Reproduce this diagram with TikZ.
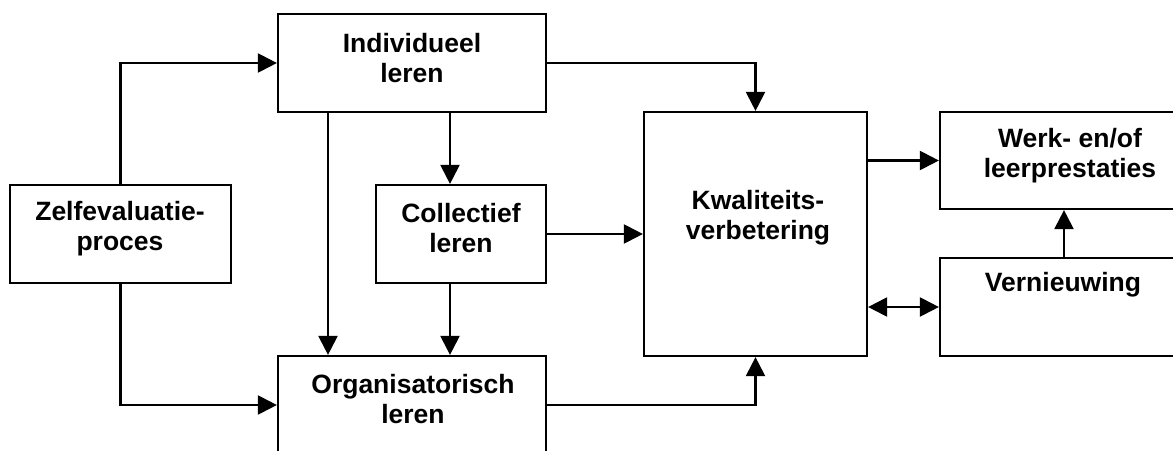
\documentclass[tikz,border=0pt]{standalone}
\usepackage{fontspec}
\setmainfont{Liberation Sans}
\usetikzlibrary{arrows.meta}
\tikzset{
  box/.style={draw=black, line width=2.2pt, fill=white, inner sep=0pt},
  lbl/.style={align=center, font=\fontsize{26.5}{30}\selectfont\bfseries, inner sep=0pt},
  arr/.style={line width=2.2pt, -{Triangle[length=19pt,width=19pt]}},
  darr/.style={line width=2.2pt, {Triangle[length=19pt,width=19pt]}-{Triangle[length=19pt,width=19pt]}}
}
\begin{document}
\begin{tikzpicture}[x=1pt,y=-1pt]
\useasboundingbox (0,0) rectangle (1173,450);
\clip (0,0) rectangle (1173,450);
\fill[white] (0,0) rectangle (1173,450);

% boxes
\node[box, minimum width=221pt, minimum height=98pt] (zelf) at (120.5,234) {};
\node[box, minimum width=268pt, minimum height=98pt] (ind)  at (412,63) {};
\node[box, minimum width=170pt, minimum height=98pt] (coll) at (461,234) {};
\node[box, minimum width=268pt, minimum height=98pt] (org)  at (412,405) {};
\node[box, minimum width=223pt, minimum height=244pt] (kwal) at (755.5,234) {};
\node[box, minimum width=248pt, minimum height=97pt] (werk) at (1064,160.5) {};
\node[box, minimum width=248pt, minimum height=98pt] (vern) at (1064,307) {};

% labels
\node[lbl] (tzelf) at (120,229) {Zelfevaluatie-\\proces};
\node[lbl] (tind)  at (412,58) {Individueel\\leren};
\node[lbl] (tcoll) at (461,228) {Collectief\\leren};
\node[lbl] (torg)  at (413,399) {Organisatorisch\\leren};
\node[lbl] (tkwal) at (758,218) {Kwaliteits-\\verbetering};
\node[lbl] (twerk) at (1070,156) {Werk- en/of\\leerprestaties};
\node[lbl] (tvern) at (1063,285) {Vernieuwing};

% connectors
\draw[arr] (zelf.north) |- (ind.west);
\draw[arr] (zelf.south) |- (org.west);
\draw[arr] ([xshift=-84pt]ind.south) -- ([xshift=-84pt]ind.south |- org.north);
\draw[arr] ([xshift=-11pt]coll.north |- ind.south) -- ([xshift=-11pt]coll.north);
\draw[arr] ([xshift=-11pt]coll.south) -- ([xshift=-11pt]coll.south |- org.north);
\draw[arr] (coll.east) -- (kwal.west);
\draw[arr] (ind.east) -| (kwal.north);
\draw[arr] (org.east) -| (kwal.south);
\draw[arr] (kwal.east |- werk.west) -- (werk.west);
\draw[arr] (vern.north) -- (werk.south);
\draw[darr] (kwal.east |- vern.west) -- (vern.west);
\end{tikzpicture}
\end{document}
